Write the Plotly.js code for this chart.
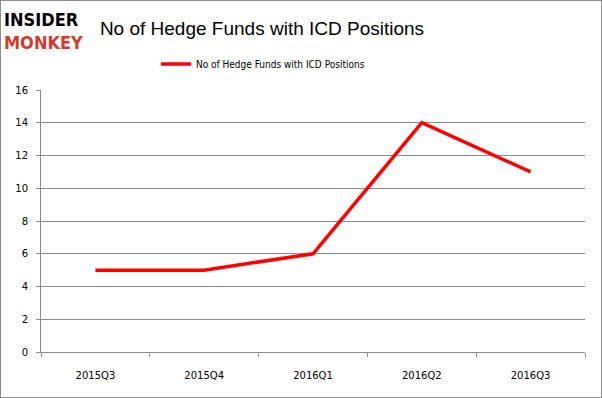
<!DOCTYPE html>
<html><head><meta charset="utf-8">
<script src="https://cdn.plot.ly/plotly-3.0.1.min.js"></script>
<style>html,body{margin:0;padding:0;background:#fff}#c{width:600px;height:396px;border:1px solid #8c8c8c}</style>
</head><body><div id="c"></div>
<script>
const categories = ["2015Q3","2015Q4","2016Q1","2016Q2","2016Q3"];
const funds = [5,5,6,14,11];
const seriesName = "No of Hedge Funds with ICD Positions";
const yTicks = [0,2,4,6,8,10,12,14,16];

Plotly.newPlot("c", [{
  x: categories, y: funds, type: "scatter", mode: "lines", name: seriesName,
  line: {color: "#ff0000", width: 3.5}
}], {
  width: 600, height: 396,
  margin: {l: 40, r: 16, t: 89, b: 45},
  paper_bgcolor: "#fff", plot_bgcolor: "#fff",
  title: {text: "No of Hedge Funds with ICD Positions", x: 0.435, xanchor: "center", y: 0.932, yanchor: "middle",
    font: {family: "Liberation Sans, Arial", size: 19, color: "#000"}},
  showlegend: true,
  legend: {orientation: "h", x: 0.408, xanchor: "center", y: 1.099, yanchor: "middle",
    itemwidth: 30,
    font: {family: "DejaVu Sans Condensed, DejaVu Sans", size: 10, color: "#000"}},
  xaxis: {type: "category", range: [-0.5, 4.5], tickson: "boundaries", ticks: "outside", ticklen: 4,
    tickcolor: "#8c8c8c", showline: true, linecolor: "#8c8c8c", showgrid: false, zeroline: false,
    ticklabelstandoff: 14,
    tickfont: {family: "DejaVu Sans", size: 10, color: "#000"}, fixedrange: true},
  yaxis: {range: [0, 16], tickvals: yTicks, ticks: "outside", ticklen: 4, tickcolor: "#8c8c8c",
    showline: true, linecolor: "#8c8c8c", showgrid: true, gridcolor: "#8c8c8c", zeroline: false,
    ticklabelstandoff: 6,
    tickfont: {family: "DejaVu Sans", size: 10, color: "#000"}, fixedrange: true},
  annotations: [
    {text: "<b>INSIDER</b><br><b><span style='color:#d23a2c'>MONKEY</span></b>", xref: "paper", yref: "paper",
      x: -0.071, y: 1.227, xanchor: "left", yanchor: "middle", align: "left",
      showarrow: false, font: {family: "DejaVu Sans Condensed, DejaVu Sans", size: 18, color: "#000"}}
  ]
}, {displayModeBar: false, staticPlot: true});
</script></body></html>
